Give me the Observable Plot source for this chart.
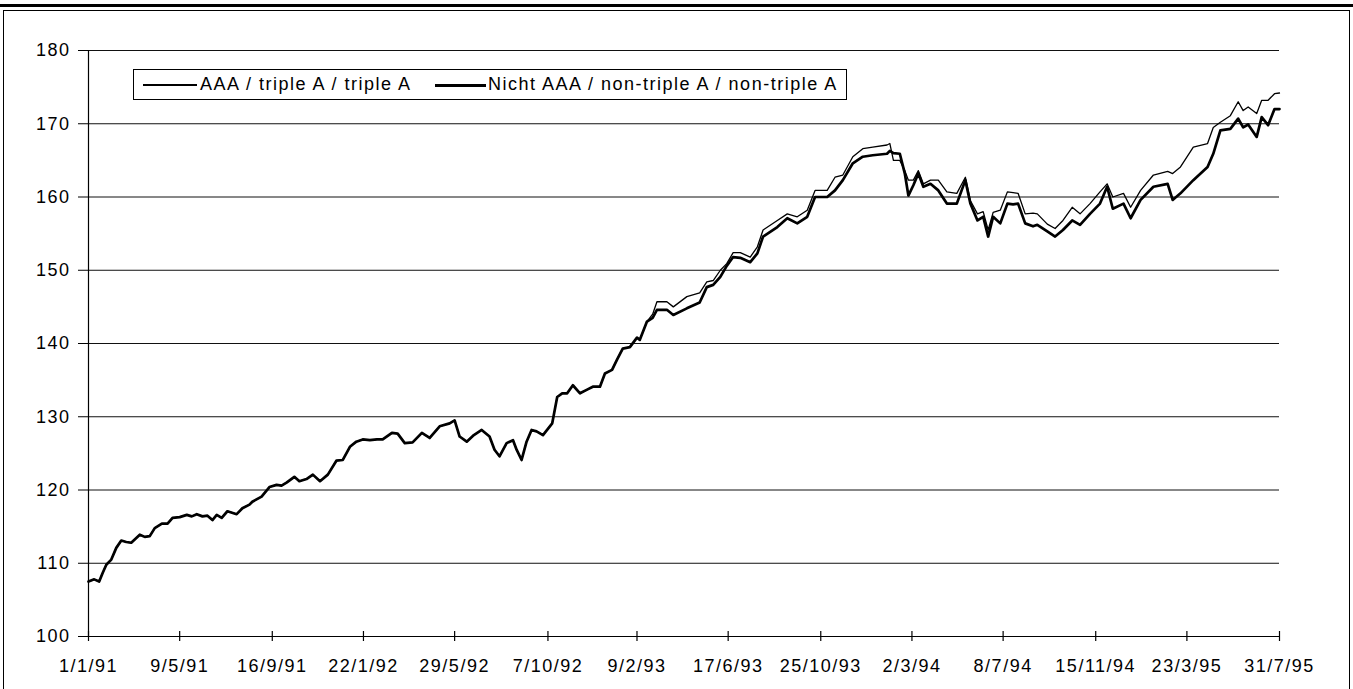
<!DOCTYPE html>
<html>
<head>
<meta charset="utf-8">
<script src="https://cdn.jsdelivr.net/npm/d3@7"></script>
<script src="https://cdn.jsdelivr.net/npm/@observablehq/plot@0.6"></script>
<style>
  html, body { margin: 0; padding: 0; background: #fff; }
  #wrap { position: relative; width: 1353px; height: 689px; overflow: hidden; font-family: "Liberation Sans", Arial, sans-serif; }
  #topbar { position: absolute; left: 0; top: 4px; width: 1353px; height: 3px; background: #000; }
  #frame { position: absolute; left: 3px; top: 10px; width: 1347px; height: 700px; border: 1.5px solid #000; box-sizing: border-box; }
  #chart { position: absolute; left: 0; top: 0; }
  #legend { position: absolute; left: 133px; top: 69px; width: 714px; height: 31px; border: 1.5px solid #000; box-sizing: border-box; background: #fff; font-size: 18px; letter-spacing: 1.5px; color: #000; }
  #legend .sw { position: absolute; top: 14px; background: #000; }
  #legend .tx { position: absolute; top: 4px; white-space: nowrap; line-height: 20px; }
</style>
</head>
<body>
<div id="wrap">
  <div id="topbar"></div>
  <div id="frame"></div>
  <div id="chart"></div>
  <div id="legend"></div>
</div>
<script>
// ---- Data ----
const startDate = "1991-01-01";
const endDate = "1995-07-31";

const seriesNames = ["AAA / triple A / triple A", "Nicht AAA / non-triple A / non-triple A"];

// days since 1 Jan 1991, period where both indices coincide
const earlyDays = [0,8,15,20,25,32,39,46,53,60,72,79,86,93,103,111,118,128,138,145,152,160,167,174,180,187,195,208,216,226,230,243,254,264,271,278,289,296,306,315,325,336,348,357,367,376,385,395,405,413,426,434,444,455,468,479,493,507,514,521,531,541,552,563,570,577,587,596,601,608,615,622,629,638,651,658,665,672,680,690,700,708,718,725,735,742,750,760,770,774,784];
const earlyValues = [107.5,107.8,107.5,108.7,109.8,110.5,112.1,113.1,112.9,112.8,113.9,113.6,113.7,114.8,115.4,115.4,116.2,116.3,116.6,116.4,116.7,116.4,116.5,115.9,116.6,116.2,117.1,116.7,117.5,118.0,118.4,119.1,120.4,120.7,120.6,121.0,121.8,121.2,121.5,122.1,121.2,122.1,124.0,124.1,125.9,126.6,126.9,126.8,126.9,126.9,127.8,127.7,126.4,126.5,127.8,127.1,128.7,129.1,129.5,127.3,126.6,127.5,128.2,127.3,125.5,124.6,126.4,126.8,125.5,124.1,126.6,128.2,128.0,127.5,129.1,132.7,133.2,133.2,134.3,133.2,133.7,134.1,134.1,135.9,136.4,137.8,139.3,139.5,140.8,140.5,143.0];

// days since 1 Jan 1991, period where the two indices diverge
const lateDays = [792,798,812,821,840,858,868,877,887,896,905,915,929,939,947,967,981,995,1009,1020,1037,1048,1059,1073,1087,1101,1121,1125,1130,1139,1146,1151,1158,1165,1172,1182,1193,1205,1219,1231,1238,1248,1256,1263,1270,1280,1290,1298,1305,1315,1326,1332,1346,1357,1368,1381,1392,1406,1420,1430,1438,1453,1463,1477,1495,1515,1522,1533,1551,1571,1579,1589,1603,1614,1621,1628,1640,1647,1656,1665,1672];
const aaaLate = [144.0,145.7,145.7,145.0,146.4,146.9,148.4,148.6,150.0,150.9,152.4,152.4,151.8,153.2,155.5,156.8,157.7,157.3,158.2,160.9,160.9,162.7,163.0,165.5,166.6,166.8,167.1,167.3,165.0,165.0,163.6,162.3,162.3,163.6,161.8,162.3,162.3,160.7,160.5,162.7,159.5,157.7,158.0,155.5,157.9,158.2,160.7,160.6,160.5,157.7,157.8,157.7,156.3,155.7,156.8,158.6,157.7,159.1,160.7,161.8,160.0,160.5,158.6,160.9,163.0,163.5,163.2,164.1,166.8,167.3,169.5,170.2,171.1,173.0,171.8,172.3,171.4,173.2,173.2,174.1,174.2];
const nonAaaLate = [143.5,144.6,144.6,143.9,144.8,145.6,147.7,148.0,149.1,150.6,151.8,151.7,151.1,152.3,154.6,155.9,157.1,156.4,157.3,160.0,160.0,160.9,162.3,164.6,165.5,165.7,165.9,166.3,166.0,165.9,163.2,160.2,161.6,163.2,161.4,161.8,160.9,159.1,159.1,162.3,159.1,156.8,157.3,154.6,157.3,156.4,159.1,159.0,159.1,156.4,156.0,156.2,155.3,154.6,155.5,156.8,156.2,157.7,159.1,161.4,158.4,159.1,157.1,159.6,161.4,161.8,159.6,160.5,162.3,164.1,165.9,169.1,169.3,170.7,169.5,169.9,168.2,170.9,169.8,172.0,172.0];

const xTickDates = ["1991-01-01","1991-05-09","1991-09-16","1992-01-22","1992-05-29","1992-10-07","1993-02-09","1993-06-17","1993-10-25","1994-03-02","1994-07-08","1994-11-15","1995-03-23","1995-07-31"];
const xTickLabels = ["1/1/91","9/5/91","16/9/91","22/1/92","29/5/92","7/10/92","9/2/93","17/6/93","25/10/93","2/3/94","8/7/94","15/11/94","23/3/95","31/7/95"];
const yTicks = [100,110,120,130,140,150,160,170,180];
const gridValues = [110,120,130,140,150,160,170,180];

// ---- Build tables ----
const start = new Date(startDate);
const end = new Date(endDate);
const toDate = d => d3.utcDay.offset(start, d);
const early = earlyDays.map((d, i) => ({date: toDate(d), value: earlyValues[i]}));
const aaa = early.concat(lateDays.map((d, i) => ({date: toDate(d), value: aaaLate[i]})));
const nonAaa = early.concat(lateDays.map((d, i) => ({date: toDate(d), value: nonAaaLate[i]})));
const tickDates = xTickDates.map(s => new Date(s));
const fmt = d => { const i = tickDates.findIndex(t => +t === +d); return i >= 0 ? xTickLabels[i] : ""; };

const chart = Plot.plot({
  width: 1353,
  height: 689,
  marginLeft: 88,
  marginRight: 74,
  marginTop: 50,
  marginBottom: 53,
  style: "font-family: 'Liberation Sans', Arial, sans-serif; font-size: 18px; letter-spacing: 1.5px; color: #000; background: transparent; overflow: visible;",
  x: {type: "utc", domain: [start, end], label: null},
  y: {domain: [100, 180], label: null},
  marks: [
    Plot.ruleY(gridValues, {stroke: "#111", strokeWidth: 1}),
    Plot.ruleY([100], {stroke: "#000", strokeWidth: 1.2}),
    Plot.ruleX([start], {stroke: "#000", strokeWidth: 1.2}),
    Plot.ruleX(tickDates, {y1: 100, y2: 100, insetTop: 5, insetBottom: 5, stroke: "#000", strokeWidth: 1.2}),
    Plot.axisY({ticks: yTicks, tickSize: 10, tickPadding: 8, label: null, stroke: "#000"}),
    Plot.axisX({ticks: tickDates, tickFormat: fmt, tickSize: 0, tickPadding: 23, label: null}),
    Plot.line(nonAaa, {x: "date", y: "value", stroke: "#000", strokeWidth: 2.7, strokeLinejoin: "round"}),
    Plot.line(aaa, {x: "date", y: "value", stroke: "#000", strokeWidth: 1.3, strokeLinejoin: "round"})
  ]
});
document.getElementById("chart").appendChild(chart);

// ---- Legend ----
const legend = document.getElementById("legend");
const items = [
  {name: seriesNames[0], swLeft: 9, swWidth: 54, swHeight: 1.5, txLeft: 66},
  {name: seriesNames[1], swLeft: 301, swWidth: 51, swHeight: 2.7, txLeft: 354}
];
for (const it of items) {
  const sw = document.createElement("div");
  sw.className = "sw";
  sw.style.left = it.swLeft + "px";
  sw.style.width = it.swWidth + "px";
  sw.style.height = it.swHeight + "px";
  legend.appendChild(sw);
  const tx = document.createElement("div");
  tx.className = "tx";
  tx.style.left = it.txLeft + "px";
  tx.textContent = it.name;
  legend.appendChild(tx);
}
</script>
</body>
</html>
